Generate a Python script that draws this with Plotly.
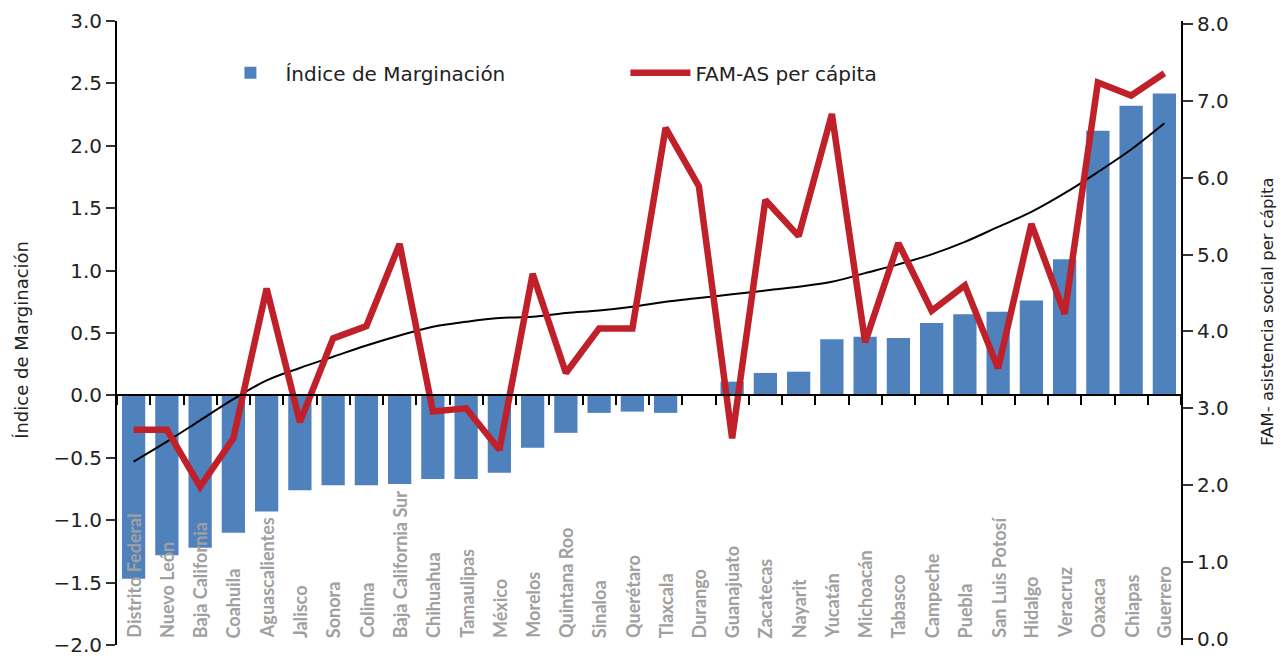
import plotly.graph_objects as go

estados = ["Distrito Federal", "Nuevo León", "Baja California", "Coahuila", "Aguascalientes",
           "Jalisco", "Sonora", "Colima", "Baja California Sur", "Chihuahua", "Tamaulipas",
           "México", "Morelos", "Quintana Roo", "Sinaloa", "Querétaro", "Tlaxcala", "Durango",
           "Guanajuato", "Zacatecas", "Nayarit", "Yucatán", "Michoacán", "Tabasco", "Campeche",
           "Puebla", "San Luis Potosí", "Hidalgo", "Veracruz", "Oaxaca", "Chiapas", "Guerrero"]

indice_marginacion = [-1.47, -1.28, -1.22, -1.10, -0.93, -0.76, -0.72, -0.72, -0.71, -0.67, -0.67,
                      -0.62, -0.42, -0.30, -0.14, -0.13, -0.14, 0.00, 0.11, 0.18, 0.19, 0.45,
                      0.47, 0.46, 0.58, 0.65, 0.67, 0.76, 1.09, 2.12, 2.32, 2.42]

fam_as_per_capita = [2.72, 2.72, 1.98, 2.61, 4.56, 2.82, 3.91, 4.07, 5.14, 2.96, 3.00,
                     2.46, 4.75, 3.46, 4.04, 4.04, 6.65, 5.89, 2.61, 5.71, 5.24, 6.83,
                     3.86, 5.15, 4.27, 4.60, 3.52, 5.40, 4.23, 7.24, 7.07, 7.36]

tendencia = [-0.53, -0.37, -0.20, -0.03, 0.12, 0.22, 0.31, 0.40, 0.48, 0.55, 0.59,
             0.62, 0.63, 0.66, 0.68, 0.71, 0.75, 0.78, 0.81, 0.84, 0.87, 0.91,
             0.98, 1.05, 1.13, 1.23, 1.35, 1.47, 1.62, 1.79, 1.97, 2.18]

left_ticks = [-2.0, -1.5, -1.0, -0.5, 0.0, 0.5, 1.0, 1.5, 2.0, 2.5, 3.0]
right_ticks = [0, 1, 2, 3, 4, 5, 6, 7, 8]

FONT = "DejaVu Sans"

fig = go.Figure()
fig.add_trace(go.Bar(x=estados, y=indice_marginacion, name="Índice de Marginación",
                     marker=dict(color="#4f81bd", line=dict(width=0)), yaxis="y"))
fig.add_trace(go.Scatter(x=estados, y=tendencia, mode="lines", showlegend=False,
                         line=dict(color="black", width=2, shape="spline"), yaxis="y",
                         hoverinfo="skip"))
fig.add_trace(go.Scatter(x=estados, y=fam_as_per_capita, mode="lines", name="FAM-AS per cápita",
                         line=dict(color="#c0202a", width=6.5), yaxis="y2"))

for e in estados:
    fig.add_annotation(x=e, y=0, xref="x", yref="paper", text=e, textangle=-90,
                       showarrow=False, yanchor="bottom", xanchor="center", yshift=5,
                       font=dict(family="Lato", size=18, color="#a0a0a0", weight="bold"))

fig.add_annotation(x=0, y=0.489, xref="paper", yref="paper", text="Índice de Marginación",
                   textangle=-90, showarrow=False, xanchor="center", yanchor="middle",
                   xshift=-95, font=dict(family=FONT, size=18, color="#222"))
fig.add_annotation(x=1, y=0.534, xref="paper", yref="paper",
                   text="FAM- asistencia social per cápita",
                   textangle=-90, showarrow=False, xanchor="center", yanchor="middle",
                   xshift=87, font=dict(family=FONT, size=16.5, color="#222"))

fig.update_layout(
    width=1278, height=650,
    margin=dict(l=109, r=105, t=13, b=13),
    paper_bgcolor="white", plot_bgcolor="white",
    bargap=0.3,
    font=dict(family=FONT, size=16, color="black"),
    showlegend=True,
    legend=dict(orientation="h", x=0.0925, y=0.917, xanchor="left", yanchor="middle",
                font=dict(family=FONT, size=20, color="#222"), entrywidth=335,
                itemwidth=60, bgcolor="rgba(0,0,0,0)"),
    xaxis=dict(type="category", anchor="free", position=0.4, showline=True,
               linecolor="black", linewidth=2, ticks="outside", tickson="boundaries",
               ticklen=9, tickwidth=2, tickcolor="black", showticklabels=False,
               showgrid=False, zeroline=False, range=[-0.5, len(estados) - 0.5],
               automargin=False),
    yaxis=dict(range=[-2, 3], tickvals=left_ticks, tickformat=".1f", showline=True,
               linecolor="black", linewidth=2, ticks="outside", ticklen=9, tickwidth=1.5,
               tickcolor="#333", showgrid=False, zeroline=False, automargin=False,
               tickfont=dict(family=FONT, size=20, color="#222")),
    yaxis2=dict(range=[-0.08, 8.04], tickvals=right_ticks, tickformat=".1f", overlaying="y",
                side="right", showline=True, linecolor="black", linewidth=2, ticks="outside",
                ticklen=10, tickwidth=1.5, tickcolor="#333", showgrid=False, zeroline=False,
                automargin=False,
                tickfont=dict(family=FONT, size=20, color="#222")),
)

fig.write_html("out.html")
